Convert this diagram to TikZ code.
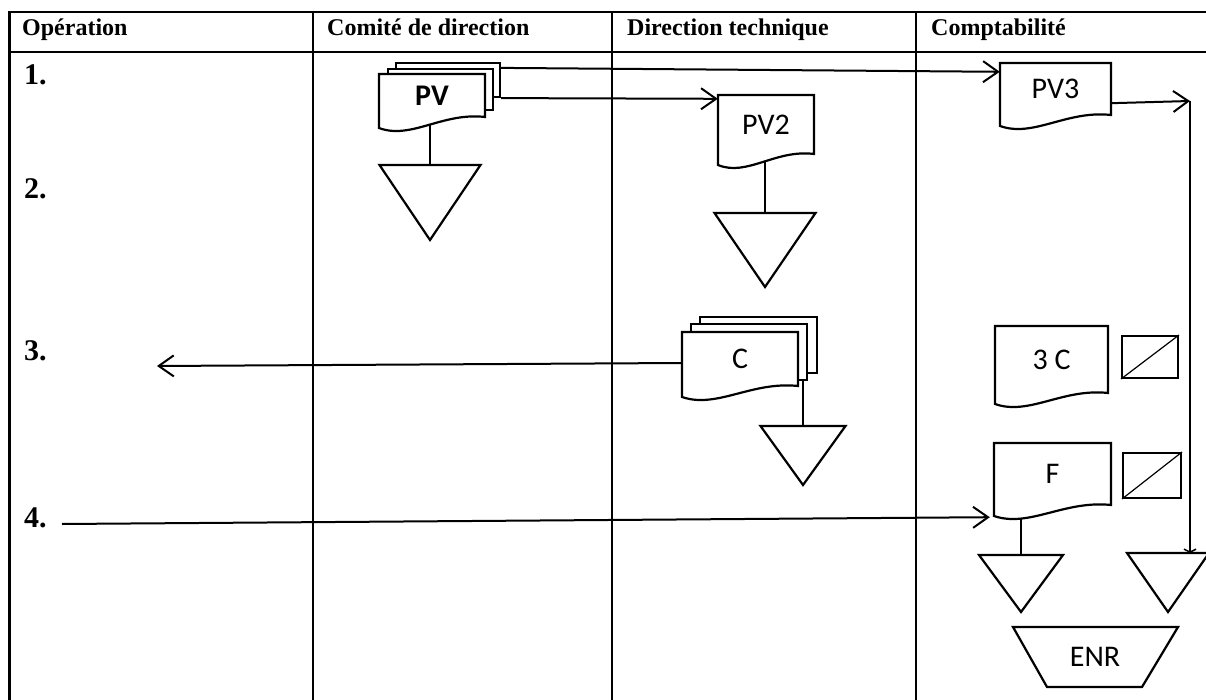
\documentclass[tikz,border=0pt]{standalone}
\usepackage{fontspec}
\setmainfont{Liberation Serif}
\newfontfamily\labelfont{Carlito}
\usetikzlibrary{arrows.meta,calc}

\tikzset{
  grid/.style={line width=2.4pt},
  outline/.style={line width=2.2pt, fill=white, line join=miter},
  sheet/.style={draw, line width=2.2pt, fill=white, inner sep=0pt},
  stem/.style={line width=1.2pt},
  arr/.style={line width=2pt, -{Straight Barb[length=15pt,width=21pt,line width=2pt]}},
  headtxt/.style={anchor=base west, font=\fontsize{24}{28}\selectfont\bfseries, inner sep=0pt},
  numtxt/.style={anchor=base west, font=\fontsize{30}{34}\selectfont\bfseries, inner sep=0pt},
  doctxt/.style={font=\labelfont\fontsize{30}{34}\selectfont, inner sep=0pt},
  tickbox/.style={draw, line width=2pt, inner sep=0pt},
}

% document symbol: #1 name, #2 left, #3 top, #4 right, #5 bottom at the right edge, #6 label
\newcommand\docsheet[6]{%
  \pgfmathsetmacro\dw{#4-#2}%
  \pgfmathsetmacro\dh{#5-#3}%
  \draw[outline] (#4,#3) -- (#2,#3) -- (#2,{#5+11})
    .. controls +({0.3*\dw},12) and +({-0.4*\dw},-5) .. (#4,#5) -- cycle;
  \node[doctxt, minimum width=\dw pt, minimum height=\dh pt]
    (#1) at ({(#2+#4)/2},{(#3+#5)/2}) {#6};
}
% plain sheet behind a document: #1 name, #2 left, #3 top, #4 right, #5 bottom
\newcommand\backsheet[5]{%
  \node[sheet, minimum width={#4-#2}, minimum height={#5-#3}]
    (#1) at ({(#2+#4)/2},{(#3+#5)/2}) {};
}
% filing triangle: #1 name (top centre), #2 centre x, #3 top, #4 half width, #5 height
\newcommand\filetri[5]{%
  \coordinate (#1) at (#2,#3);
  \draw[outline] ({#2-#4},#3) -- ({#2+#4},#3) -- (#2,{#3+#5}) -- cycle;
}

\begin{document}
\begin{tikzpicture}[x=1pt,y=-1pt]
\useasboundingbox (0,0) rectangle (1206,700);

% table frame
\draw[grid] (9.5,702) -- (9.5,12) -- (1210,12);
\draw[grid] (9.5,52) -- (1210,52);
\draw[grid] (313,12) -- (313,702);
\draw[grid] (612,12) -- (612,702);
\draw[grid] (916,12) -- (916,702);

% column headings
\node[headtxt] (h1) at (22,36) {Opération};
\node[headtxt] (h2) at (327,36) {Comité de direction};
\node[headtxt] (h3) at (627,36) {Direction technique};
\node[headtxt] (h4) at (931,36) {Comptabilité};

% operation numbers
\node[numtxt] (n1) at (24,85) {1.};
\node[numtxt] (n2) at (24,199) {2.};
\node[numtxt] (n3) at (24,360) {3.};
\node[numtxt] (n4) at (24,527) {4.};

% filing triangles
\filetri{t1}{430}{165}{50.5}{75}
\filetri{t2}{765}{213}{50.5}{74}
\filetri{t3}{803}{426}{42.5}{59}
\filetri{t4}{1021}{555}{42}{57}
\filetri{t5}{1168}{553}{41}{59}

% stems from documents to their files
\draw[stem] (t1) -- (t1 |- 0,110);
\draw[stem] (t2) -- (t2 |- 0,140);
\draw[stem] (t3) -- (t3 |- 0,372);
\draw[stem] (t4) -- (t4 |- 0,505);

% PV in three copies
\backsheet{pvs3}{396}{63}{500}{97}
\backsheet{pvs2}{388}{69}{493}{110}
\docsheet{pv}{379}{74}{485}{117}{\textbf{PV}}

% copies received
\docsheet{pv2}{718}{95}{814}{154}{PV2}
\docsheet{pv3}{1000}{63}{1111}{115}{PV3}

% C in three copies
\backsheet{cs3}{700}{317}{817}{373}
\backsheet{cs2}{691}{324}{807}{380}
\docsheet{c}{682}{332}{798}{386}{C}

% accounting documents
\docsheet{c3}{995}{326}{1108}{393}{3 C}
\docsheet{f}{994}{443}{1111}{505}{F}

% check boxes
\node[tickbox, minimum width=56pt, minimum height=42pt] (k1) at (1150,357) {};
\draw[stem] (k1.south west) -- (k1.north east);
\node[tickbox, minimum width=58pt, minimum height=45pt] (k2) at (1152,475.5) {};
\draw[stem] (k2.south west) -- (k2.north east);

% records
\draw[outline] (1013,627) -- (1178,627) -- (1142,687) -- (1047,687) -- cycle;
\node[doctxt] (enr) at (1095,657) {ENR};

% flows
\coordinate (turn) at (1190,101);
\coordinate (back) at (157,366);
\coordinate (entry) at (62,524);
\draw[arr] ($(pvs3.north east)+(0,6)$) -- ($(pv3.north west)+(0,9)$);
\draw[arr] (pvs3.south east) -- ($(pv2.north west)+(0,4)$);
\draw[arr] ($(pv3.south east)+(0,-12)$) -- (turn);
\draw[line width=2pt, -{Straight Barb[length=3pt,width=12pt,line width=1.5pt]}] (turn) -- (turn |- t5);
\draw[arr] ($(c.west)+(0,4)$) -- (back);
\draw[arr] (entry) -- ($(f.south west)+(-4,12)$);
\end{tikzpicture}
\end{document}
